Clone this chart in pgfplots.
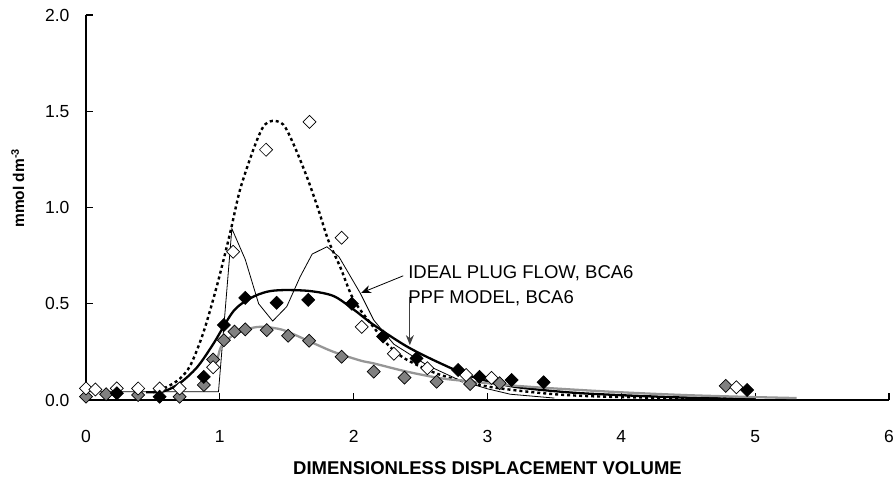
\documentclass[border=0pt]{standalone}
\usepackage{pgfplots}
\pgfplotsset{compat=1.18}
\usepackage{fontspec}
\setmainfont{Liberation Sans}
\usetikzlibrary{arrows.meta}
\definecolor{markgray}{RGB}{128,128,128}
\definecolor{linegray}{RGB}{150,150,150}
\begin{document}
\begin{tikzpicture}
\path[use as bounding box] (-86pt,-81pt) rectangle (809pt,400pt);
\begin{axis}[
    scale only axis,
    width=803pt, height=385pt,
    xmin=0, xmax=6, ymin=0, ymax=2,
    axis x line=bottom, axis y line=left,
    axis line style={-, line width=1.3pt},
    xtick={0,1,...,6},
    ytick={0,0.5,1,1.5,2},
    tick align=inside,
    major tick length=7pt,
    tick style={line width=1.1pt, black},
    /pgf/number format/assume math mode=true,
    ticklabel style={font=\fontsize{17.5}{20}\selectfont},
    yticklabel style={/pgf/number format/.cd, fixed, fixed zerofill, precision=1, /tikz/.cd, xshift=-13pt},
    xticklabel style={yshift=-27pt},
    xlabel={\bfseries DIMENSIONLESS DISPLACEMENT VOLUME},
    xlabel style={at={(axis description cs:0.5,0)}, anchor=center, yshift=-68pt, font=\fontsize{18.5}{21}\selectfont},
    clip=false,
    mark size=4.6pt,
]
% ideal plug flow (thin)
\addplot[black, line width=0.8pt, mark=none] coordinates {
 (0,0.043) (0.99,0.043) (1.09,0.89) (1.19,0.73) (1.29,0.50) (1.395,0.41)
 (1.50,0.485) (1.60,0.64) (1.69,0.758) (1.80,0.796) (1.89,0.744) (2.05,0.554)
 (2.15,0.415) (2.30,0.29) (2.55,0.18) (2.80,0.10) (3.00,0.058) (3.17,0.03) (3.5,0.01)
};
% dashed model curve
\addplot[black, line width=2.4pt, dash pattern=on 3pt off 3pt, smooth, mark=none] coordinates {
 (0.5,0.04) (0.61,0.07) (0.70,0.11) (0.78,0.18) (0.877,0.35) (0.977,0.59) (1.076,0.865)
 (1.15,1.09) (1.25,1.30) (1.325,1.42) (1.395,1.45) (1.475,1.43) (1.55,1.33) (1.65,1.16)
 (1.736,0.99) (1.81,0.83) (1.90,0.69) (2.0,0.52) (2.147,0.38) (2.27,0.277) (2.40,0.208)
 (2.65,0.13) (3.0,0.07) (3.5,0.03) (4.0,0.015) (5.0,0.005)
};
% PPF model (thick black)
\addplot[black, line width=2.3pt, smooth, mark=none] coordinates {
 (0.45,0.04) (0.58,0.045) (0.70,0.087) (0.83,0.17) (0.95,0.29) (1.10,0.46) (1.226,0.528)
 (1.35,0.562) (1.475,0.571) (1.674,0.566) (1.85,0.54) (2.0,0.47) (2.15,0.39) (2.40,0.277)
 (2.65,0.19) (2.89,0.12) (3.19,0.07) (3.6,0.04) (4.0,0.025) (4.5,0.012) (5.0,0.005)
};
% gray model curve
\addplot[linegray, line width=2.3pt, smooth, mark=none] coordinates {
 (0.98,0.2) (1.01,0.277) (1.10,0.337) (1.226,0.372) (1.325,0.38) (1.475,0.363) (1.674,0.303)
 (1.85,0.25) (2.05,0.205) (2.15,0.19) (2.40,0.147) (2.65,0.113) (2.89,0.095) (3.19,0.075)
 (3.5,0.06) (4.0,0.04) (4.5,0.025) (5.0,0.015) (5.31,0.01)
};
% gray diamonds
\addplot[only marks, mark=square*, mark options={rotate=45, fill=markgray, draw=black, line width=0.7pt}] coordinates {
 (0,0.017) (0.15,0.03) (0.39,0.026) (0.70,0.017) (0.88,0.078) (0.95,0.21) (1.03,0.31)
 (1.11,0.355) (1.19,0.367) (1.35,0.363) (1.51,0.334) (1.667,0.308) (1.91,0.225) (2.15,0.147)
 (2.38,0.116) (2.62,0.095) (2.87,0.083) (3.09,0.087) (4.78,0.073)
};
% white diamonds
\addplot[only marks, mark=square*, mark options={rotate=45, fill=white, draw=black, line width=0.7pt}] coordinates {
 (0,0.06) (0.07,0.055) (0.23,0.06) (0.39,0.06) (0.55,0.06) (0.70,0.06) (0.95,0.17)
 (1.10,0.77) (1.345,1.30) (1.67,1.445) (1.91,0.843) (2.06,0.38) (2.30,0.24) (2.55,0.165)
 (2.84,0.13) (3.03,0.115) (4.86,0.066)
};
% black diamonds
\addplot[only marks, mark=square*, mark options={rotate=45, fill=black, draw=black, line width=0.7pt}] coordinates {
 (0.23,0.035) (0.55,0.017) (0.88,0.12) (1.03,0.39) (1.19,0.53) (1.425,0.505) (1.66,0.52)
 (1.986,0.50) (2.22,0.33) (2.47,0.216) (2.78,0.156) (2.94,0.12) (3.18,0.104) (3.42,0.092)
 (4.94,0.052)
};
% y label and annotations
\node[rotate=90, anchor=center, font=\fontsize{15.5}{18}\selectfont\bfseries] at (axis description cs:-0.085,0.55) {mmol dm\textsuperscript{-3}};
\node[anchor=west, inner sep=0pt, font=\fontsize{18.5}{21}\selectfont] at (axis cs:2.407,0.659) {IDEAL PLUG FLOW, BCA6};
\node[anchor=west, inner sep=0pt, font=\fontsize{18.5}{21}\selectfont] at (axis cs:2.407,0.53) {PPF MODEL, BCA6};
\draw[black, line width=0.8pt, -{Stealth[length=10pt, width=8pt]}] (axis cs:2.37,0.645) -- (axis cs:2.055,0.556);
\draw[black!75, line width=0.9pt, -{Stealth[length=10pt, width=8pt]}] (axis cs:2.42,0.535) -- (axis cs:2.42,0.285);
\end{axis}
\end{tikzpicture}
\end{document}
